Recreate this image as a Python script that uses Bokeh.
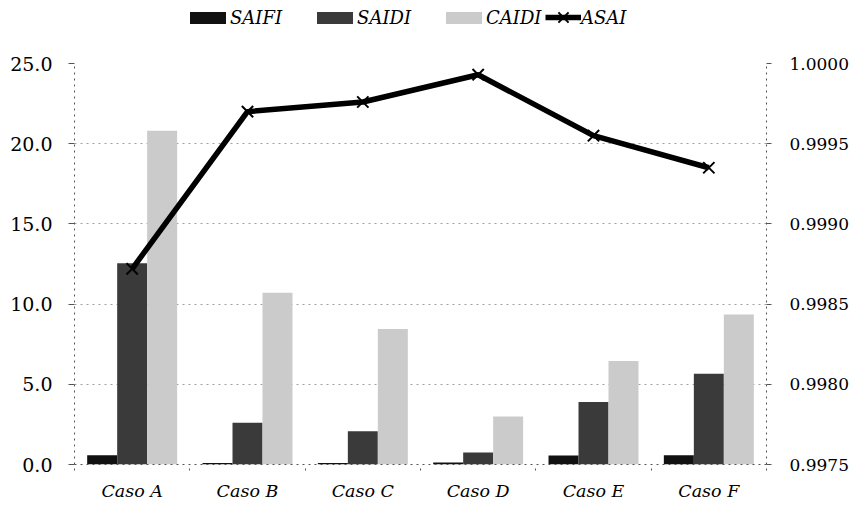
import numpy as np
from bokeh.plotting import figure
from bokeh.layouts import column
from bokeh.models import (ColumnDataSource, Range1d, LinearAxis, FixedTicker,
                          NumeralTickFormatter, Legend, LegendItem)
from bokeh.transform import dodge
from bokeh.embed import file_html
from bokeh.resources import INLINE

categories = ["Caso A", "Caso B", "Caso C", "Caso D", "Caso E", "Caso F"]
saifi = [0.58, 0.10, 0.10, 0.12, 0.56, 0.57]
saidi = [12.55, 2.60, 2.08, 0.75, 3.90, 5.65]
caidi = [20.80, 10.70, 8.45, 3.00, 6.45, 9.35]
asai = [0.99872, 0.99970, 0.99976, 0.99993, 0.99955, 0.99935]
series_names = ["SAIFI", "SAIDI", "CAIDI", "ASAI"]
left_ticks = [0, 5, 10, 15, 20, 25]
right_ticks = [0.9975, 0.9980, 0.9985, 0.9990, 0.9995, 1.0000]

FONT = "DejaVu Serif"
C_SAIFI, C_SAIDI, C_CAIDI = "#111111", "#3a3a3a", "#cbcbcb"
idx = np.arange(len(categories))
centers = idx + 0.5
src = ColumnDataSource(dict(x=centers, cat=categories, saifi=saifi, saidi=saidi,
                            caidi=caidi, asai=asai))

p = figure(width=851, height=460, output_backend="svg", toolbar_location=None,
           x_range=Range1d(0, len(categories)), y_range=Range1d(0, 25),
           min_border_left=74, min_border_right=84, min_border_top=13,
           min_border_bottom=46)
p.outline_line_color = None
p.background_fill_color = "white"
p.border_fill_color = "white"
p.extra_y_ranges = {"asai": Range1d(0.9975, 1.0)}

bw = 0.26
r1 = p.vbar(x=dodge("x", -bw, range=p.x_range), top="saifi", width=bw, source=src,
            fill_color=C_SAIFI, line_color=None)
r2 = p.vbar(x="x", top="saidi", width=bw, source=src,
            fill_color=C_SAIDI, line_color=None)
r3 = p.vbar(x=dodge("x", bw, range=p.x_range), top="caidi", width=bw, source=src,
            fill_color=C_CAIDI, line_color=None)
r4 = p.line(x="x", y="asai", source=src, y_range_name="asai",
            line_color="black", line_width=5.5)
r5 = p.scatter(x="x", y="asai", source=src, y_range_name="asai", marker="x",
               size=16, line_color="black", line_width=2)

# grid
p.xgrid.visible = False
p.ygrid.ticker = FixedTicker(ticks=left_ticks)
p.ygrid.grid_line_color = "#a0a0a0"
p.ygrid.grid_line_dash = "dotted"
p.ygrid.grid_line_width = 1

# x axis
xa = p.xaxis[0]
xa.ticker = FixedTicker(ticks=list(centers), minor_ticks=list(range(len(categories) + 1)))
xa.major_label_overrides = {float(c): n for c, n in zip(centers, categories)}
xa.major_tick_line_color = None
xa.major_tick_out = 0
xa.major_tick_in = 0
xa.minor_tick_line_color = "#555555"
xa.minor_tick_out = 6
xa.minor_tick_in = 0
xa.minor_tick_line_dash = "dotted"
xa.axis_line_color = "#555555"
xa.axis_line_dash = "dotted"
xa.major_label_standoff = 10
xa.major_label_text_font = FONT
xa.major_label_text_font_style = "italic"
xa.major_label_text_font_size = "17.5px"
xa.major_label_text_color = "black"

# left axis
ya = p.yaxis[0]
ya.ticker = FixedTicker(ticks=left_ticks)
ya.formatter = NumeralTickFormatter(format="0.0")
ya.minor_tick_line_color = None
ya.major_tick_out = 6
ya.major_tick_in = 0
ya.major_tick_line_color = "#555555"
ya.axis_line_color = "#555555"
ya.axis_line_dash = "dotted"
ya.major_label_standoff = 16
ya.major_label_text_font = FONT
ya.major_label_text_font_size = "19px"
ya.major_label_text_color = "black"

# right axis
ra = LinearAxis(y_range_name="asai", ticker=FixedTicker(ticks=right_ticks),
                formatter=NumeralTickFormatter(format="0.0000"))
ra.minor_tick_line_color = None
ra.major_tick_out = 5
ra.major_tick_in = 0
ra.major_tick_line_color = "#555555"
ra.axis_line_color = "#555555"
ra.axis_line_dash = "dotted"
ra.major_label_standoff = 18
ra.major_label_text_font = FONT
ra.major_label_text_font_size = "17px"
ra.major_label_text_color = "black"
p.add_layout(ra, "right")

# legend strip (separate figure above; its swatch glyphs lie outside its visible range)
lf = figure(width=851, height=50, output_backend="svg", toolbar_location=None,
            x_range=Range1d(0, 1), y_range=Range1d(0, 1),
            x_axis_location=None, y_axis_location=None,
            min_border=0)
lf.grid.visible = False
lf.outline_line_color = None
lf.border_fill_color = "white"
lf.background_fill_color = "white"
hidden = dict(x=[-5.0], y=[-5.0])
lr1 = lf.vbar(x=hidden["x"], top=hidden["y"], width=0.1, fill_color=C_SAIFI, line_color=None)
lr2 = lf.vbar(x=hidden["x"], top=hidden["y"], width=0.1, fill_color=C_SAIDI, line_color=None)
lr3 = lf.vbar(x=hidden["x"], top=hidden["y"], width=0.1, fill_color=C_CAIDI, line_color=None)
lr4 = lf.line(x=hidden["x"] * 2, y=hidden["y"] * 2, line_color="black", line_width=5.5)
lr5 = lf.scatter(x=hidden["x"], y=hidden["y"], marker="x", size=16,
                 line_color="black", line_width=2)

common = dict(orientation="horizontal", padding=0, margin=0, border_line_color=None,
              background_fill_alpha=0, label_standoff=0,
              label_text_font=FONT, label_text_font_style="italic",
              label_text_font_size="18px", label_text_color="black")
leg_bars = Legend(items=[LegendItem(label=series_names[0], renderers=[lr1]),
                         LegendItem(label=series_names[1], renderers=[lr2]),
                         LegendItem(label=series_names[2], renderers=[lr3])],
                  location=(111, 22), glyph_width=45, glyph_height=15, spacing=30,
                  **common)
leg_line = Legend(items=[LegendItem(label=series_names[3], renderers=[lr4, lr5])],
                  location=(471, 13), glyph_width=36, glyph_height=40, **common)
lf.add_layout(leg_bars, "center")
lf.add_layout(leg_line, "center")

open("out.html", "w").write(file_html(column(lf, p), INLINE))
